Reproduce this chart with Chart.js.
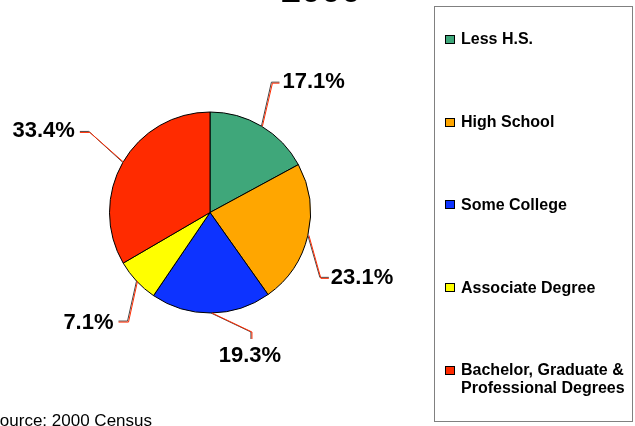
<!DOCTYPE html>
<html>
<head>
<meta charset="utf-8">
<script src="https://cdn.jsdelivr.net/npm/chart.js@4/dist/chart.umd.min.js"></script>
<style>
  html,body{margin:0;padding:0;background:#fff;}
  canvas{display:block;}
</style>
</head>
<body>
<canvas id="chartEducacao" width="635" height="426"></canvas>
<script>
/* ========== DADOS ========== */
const categorias = ['Less H.S.', 'High School', 'Some College', 'Associate Degree', 'Bachelor, Graduate &\nProfessional Degrees'];
const percentuais = [17.1, 23.1, 19.3, 7.1, 33.4];
const cores = ['#3fa77a', '#ffa600', '#0d33ff', '#ffff00', '#ff2b00'];
const titulo = '2000';
const fonte = 'Source: 2000 Census';

// linhas-guia dos rotulos (deslocamentos a partir da borda da fatia)
const guias = [
  { dx: 10,  dy: -44, hx: 8,  hy: 0, align: 'left',   tx: 3,  ty: 0 },
  { dx: 12,  dy: 42,  hx: 9,  hy: 0, align: 'left',   tx: 2,  ty: 1 },
  { dx: 40,  dy: 19,  hx: 0,  hy: 7, align: 'center', tx: -1, ty: 17 },
  { dx: -9,  dy: 40,  hx: -9, hy: 0, align: 'right',  tx: -5, ty: 2 },
  { dx: -34, dy: -31, hx: -9, hy: 0, align: 'right',  tx: -5, ty: 0 }
];

const FONT = '"Liberation Sans", Arial, sans-serif';

/* ========== PLUGINS ========== */

const rotulosPlugin = {
  id: 'rotulos',
  afterDatasetsDraw(chart) {
    const ctx = chart.ctx;
    const meta = chart.getDatasetMeta(0);
    meta.data.forEach((arc, i) => {
      const p = arc.getProps(['x', 'y', 'startAngle', 'endAngle', 'outerRadius'], true);
      const mid = (p.startAngle + p.endAngle) / 2;
      const ax = p.x + Math.cos(mid) * p.outerRadius;
      const ay = p.y + Math.sin(mid) * p.outerRadius;
      const g = guias[i];
      const ex = ax + g.dx, ey = ay + g.dy;
      const fx = ex + g.hx, fy = ey + g.hy;

      ctx.save();
      ctx.lineWidth = 1;
      [['#444', 0], ['#ff2b00', 1]].forEach(([c, o]) => {
        ctx.strokeStyle = c;
        ctx.beginPath();
        ctx.moveTo(ax + o, ay);
        ctx.lineTo(ex + o, ey + (g.hy ? 0 : o));
        ctx.lineTo(fx + (g.hy ? o : 0), fy + (g.hy ? 0 : o));
        ctx.stroke();
      });
      ctx.font = 'bold 22px ' + FONT;
      ctx.fillStyle = '#000';
      ctx.textBaseline = 'middle';
      ctx.textAlign = g.align;
      ctx.fillText(percentuais[i].toFixed(1) + '%', fx + g.tx, fy + g.ty);
      ctx.restore();
    });
  }
};

const extrasPlugin = {
  id: 'extras',
  afterDraw(chart) {
    const ctx = chart.ctx;
    ctx.save();
    // titulo (cortado no topo)
    ctx.font = 'bold 36px ' + FONT;
    ctx.fillStyle = '#000';
    ctx.textAlign = 'center';
    ctx.textBaseline = 'alphabetic';
    ctx.fillText(titulo, 321, 2);

    // fonte
    ctx.font = '17px ' + FONT;
    ctx.textAlign = 'right';
    ctx.fillText(fonte, 152, 426);

    // legenda
    ctx.strokeStyle = '#808080';
    ctx.lineWidth = 1;
    ctx.strokeRect(434.5, 6.5, 198, 415);
    ctx.font = 'bold 16px ' + FONT;
    ctx.textAlign = 'left';
    ctx.textBaseline = 'middle';
    categorias.forEach((cat, i) => {
      const yc = 40 + i * 82.7;
      ctx.fillStyle = cores[i];
      ctx.fillRect(445.5, Math.round(yc) - 4.5, 9, 8);
      ctx.strokeStyle = '#000';
      ctx.strokeRect(445.5, Math.round(yc) - 4.5, 9, 8);
      ctx.fillStyle = '#000';
      cat.split('\n').forEach((linha, k) => ctx.fillText(linha, 461, yc + k * 18));
    });
    ctx.restore();
  }
};

/* ========== CHART ========== */

const ctxE = document.getElementById('chartEducacao').getContext('2d');
const chartEducacao = new Chart(ctxE, {
  type: 'pie',
  data: {
    labels: categorias,
    datasets: [{
      data: percentuais,
      backgroundColor: cores,
      borderColor: '#000',
      borderWidth: 1
    }]
  },
  options: {
    responsive: false,
    animation: false,
    layout: { padding: { left: 109, right: 324, top: 111, bottom: 112 } },
    plugins: { legend: { display: false }, tooltip: { enabled: false } }
  },
  plugins: [rotulosPlugin, extrasPlugin]
});
</script>
</body>
</html>
